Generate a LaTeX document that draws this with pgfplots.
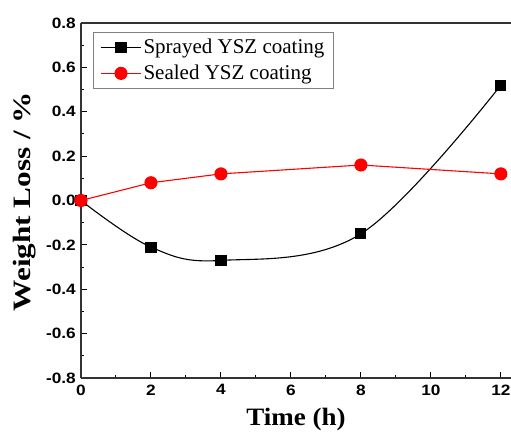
\documentclass[border=0pt]{standalone}
\usepackage{fontspec}
\setmainfont{Liberation Serif}
\newfontfamily\arialfont{Liberation Sans}
\usepackage{pgfplots}
\pgfplotsset{compat=1.18}
\begin{document}
\begin{tikzpicture}
\begin{axis}[
  scale only axis, width=430pt, height=355pt,
  xmin=0, xmax=12.29, ymin=-0.8, ymax=0.8,
  axis x line=box, axis y line=left,
  axis line style={-, line width=1.2pt, black!80},
  xtick={0,2,...,12}, ytick={-0.8,-0.6,...,0.8},
  minor x tick num=1, minor y tick num=1,
  tick align=inside, xtick pos=bottom, ytick pos=left,
  major tick length=6pt, minor tick length=3.5pt,
  tick style={line width=1pt, black},
  /pgf/number format/assume math mode=true,
  tick label style={font=\arialfont\bfseries\fontsize{15}{17}\selectfont, xscale=1.15},
  yticklabel style={/pgf/number format/.cd, fixed, fixed zerofill, precision=1, /tikz/.cd, xshift=-1pt},
  xticklabel style={yshift=-3pt},
  xlabel={\scalebox{1.08}[1]{Time (h)}}, ylabel={\scalebox{1.25}[1]{Weight Loss / \%}},
  label style={font=\fontsize{25}{28}\selectfont\bfseries},
  xlabel style={at={(axis description cs:0.5,-0.118)}, anchor=center},
  ylabel style={at={(axis description cs:-0.131,0.497)}, anchor=center},
  legend style={at={(axis description cs:0.028,0.975)}, anchor=north west,
    draw=gray, line width=0.8pt, font=\fontsize{21}{24}\selectfont,
    inner xsep=7pt, inner ysep=5pt, row sep=6pt,
    nodes={inner sep=2pt},
    /tikz/every even column/.append style={column sep=6pt}},
  legend cell align=left,
  legend image code/.code={
    \draw[mark repeat=2, mark phase=2, #1] plot coordinates {(0pt,0pt) (20pt,0pt) (40pt,0pt)};
  },
]
\coordinate (tl) at (rel axis cs:0,1);
\coordinate (br) at (rel axis cs:1,0);
\addplot[black, line width=1.1pt, mark=square*, mark size=5pt, smooth, tension=0.6, mark options={solid}]
  coordinates {(0,0) (2,-0.21) (4,-0.27) (8,-0.15) (12,0.52)};
\addlegendentry{Sprayed YSZ coating}
\addplot[red, line width=1.1pt, mark=*, mark size=6pt, mark options={solid, fill=red}]
  coordinates {(0,0) (2,0.08) (4,0.12) (8,0.16) (12,0.12)};
\addlegendentry{Sealed YSZ coating}
\end{axis}
\pgfresetboundingbox
\path[use as bounding box] ([xshift=-81pt,yshift=23pt]tl) rectangle ([yshift=-58pt]br);
\end{tikzpicture}
\end{document}
